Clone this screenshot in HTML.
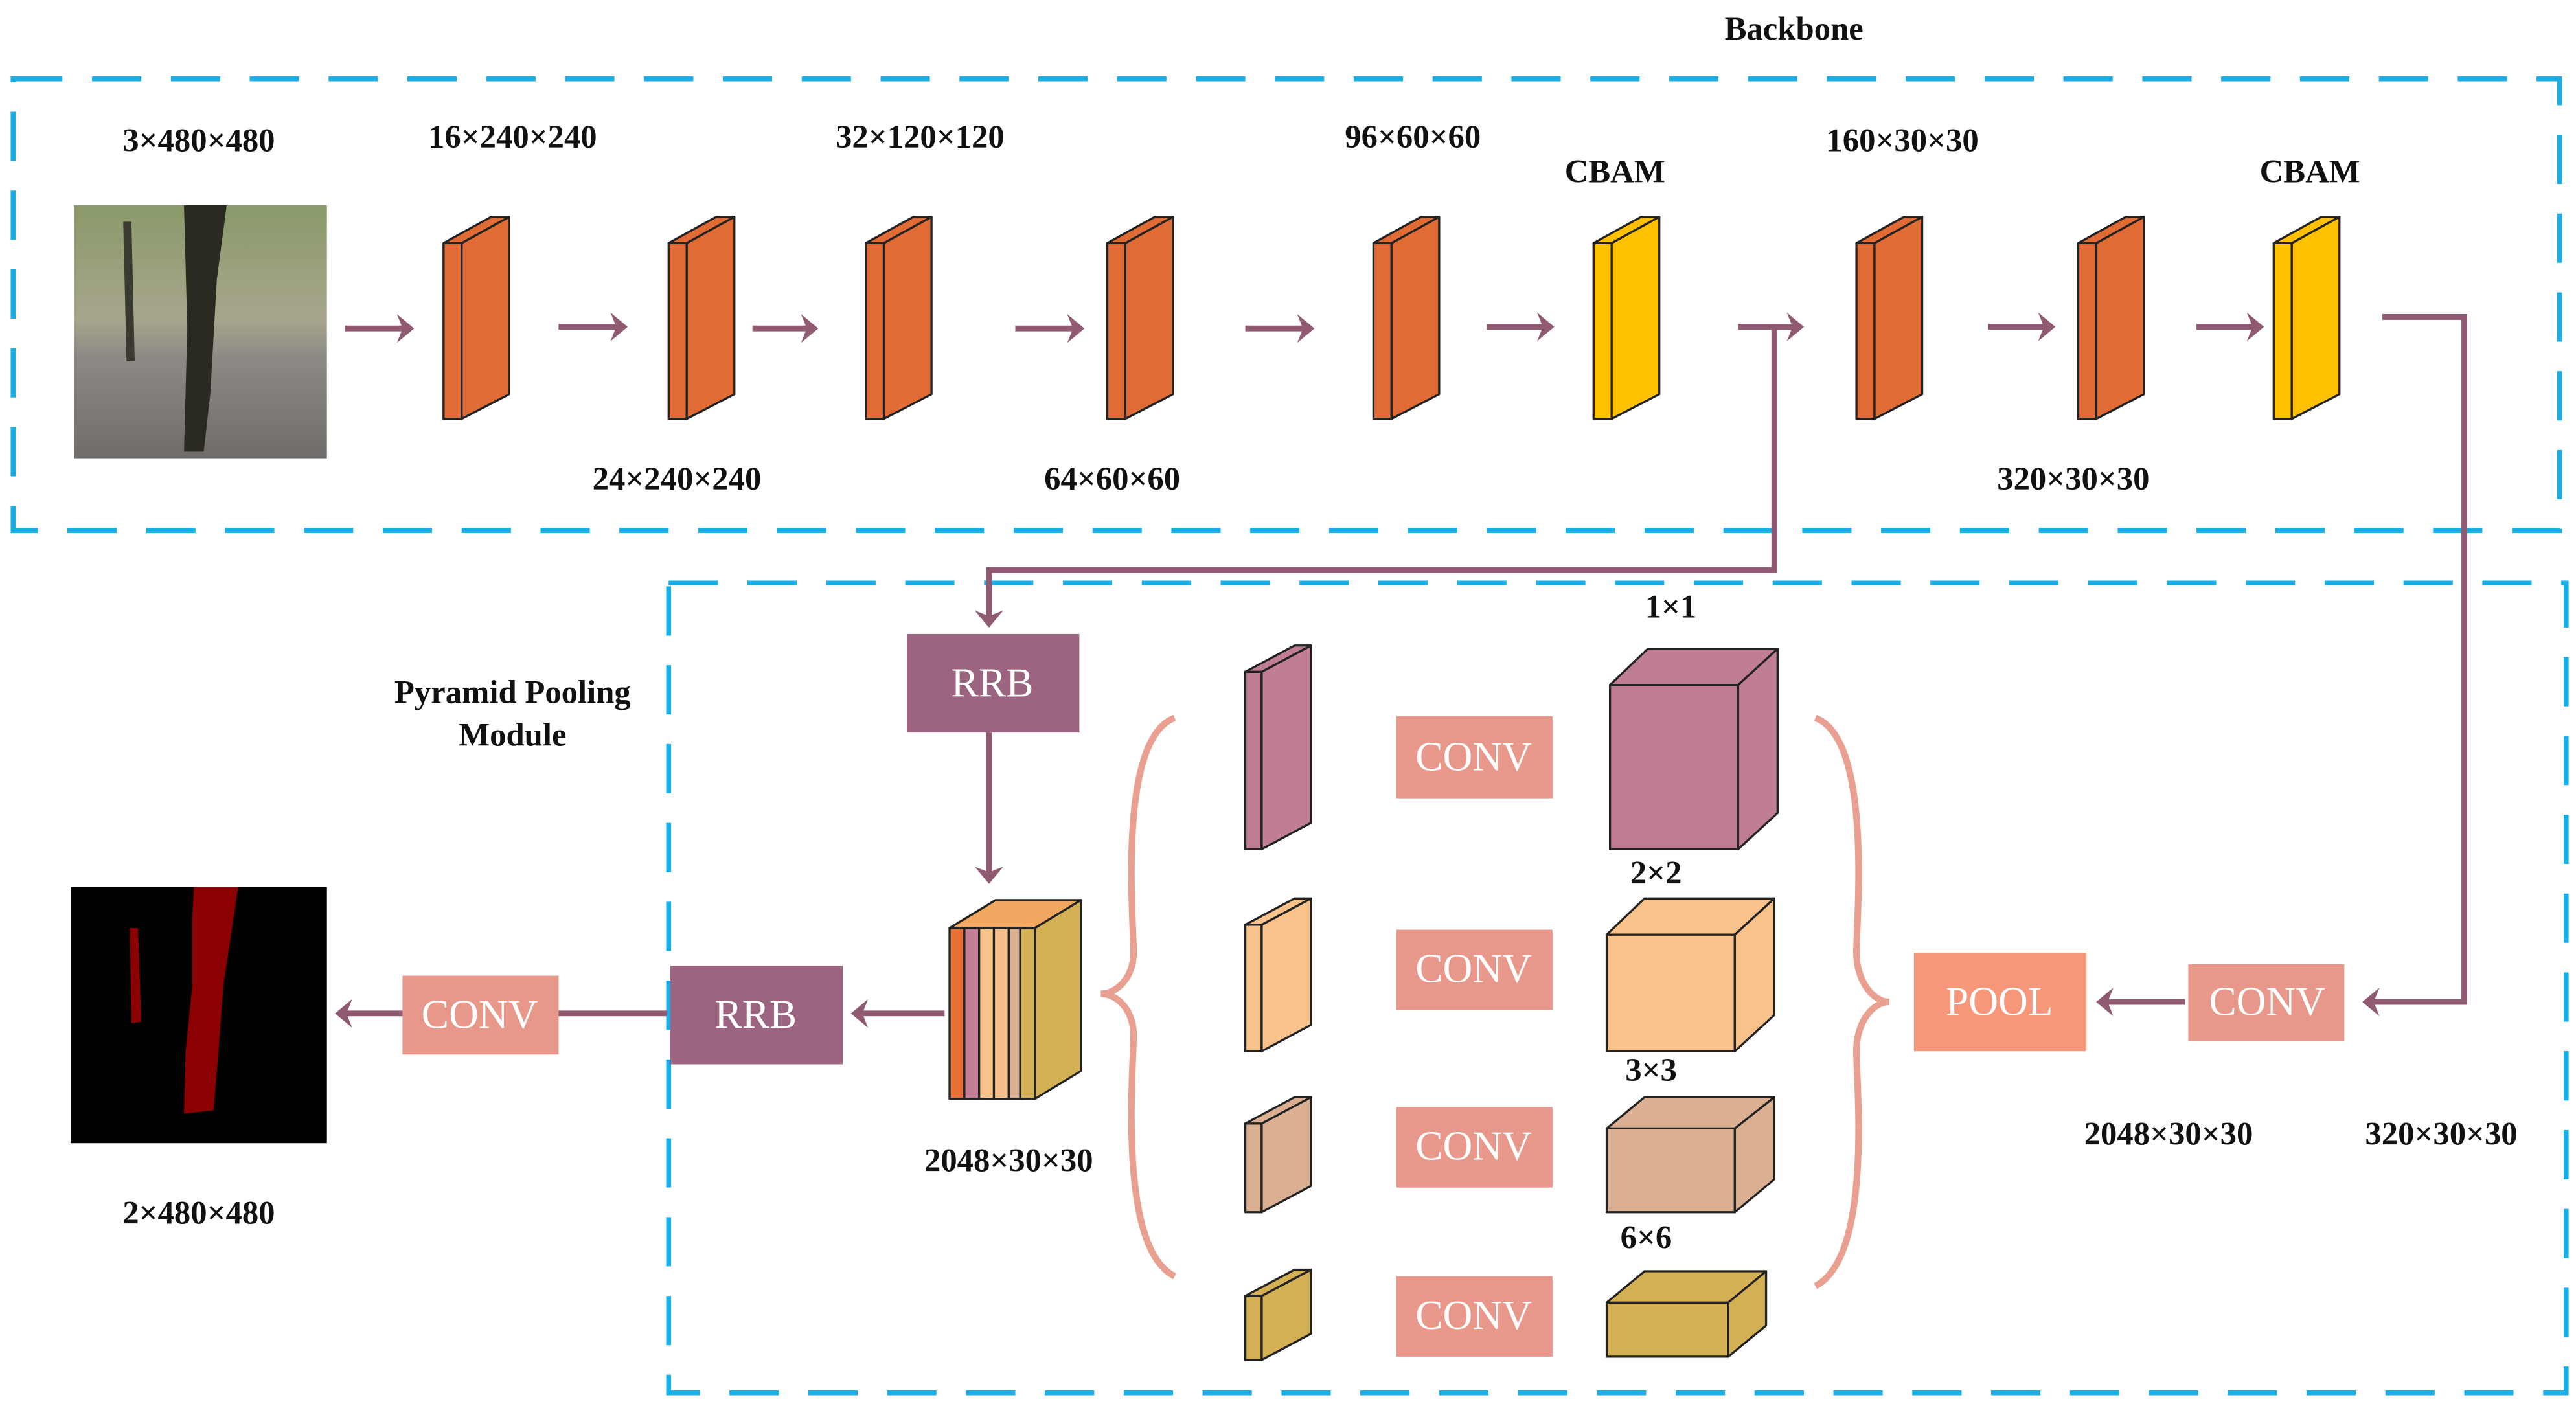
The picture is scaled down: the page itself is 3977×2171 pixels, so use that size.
<!DOCTYPE html>
<html><head><meta charset="utf-8"><style>html,body{margin:0;padding:0;background:#fff}svg{display:block}</style></head>
<body>
<svg width="3977" height="2171" viewBox="0 0 1568 856" preserveAspectRatio="none" xmlns="http://www.w3.org/2000/svg" font-family="'Liberation Serif', 'DejaVu Serif', serif">
<defs>
<marker id="ah" markerWidth="5" markerHeight="5" refX="2.4" refY="2.5" orient="auto" markerUnits="strokeWidth"><path d="M0,0 L3,2.5 L0,5 L1,2.5 Z" fill="#8f5a72"/></marker>
<linearGradient id="photo" x1="0" y1="0" x2="0" y2="1"><stop offset="0" stop-color="#8a9a6a"/><stop offset="0.45" stop-color="#a7a58c"/><stop offset="0.6" stop-color="#8d8a85"/><stop offset="1" stop-color="#6f6c6a"/></linearGradient>
<g id="sl">
<polygon points="0,16 11,16 11,123 0,123" fill="#e06b35"/>
<polygon points="11,16 40,0 40,108 11,123" fill="#e06b35"/>
<polygon points="0,16 29,0 40,0 11,16" fill="#e06b35"/>
</g>
</defs>
<style>
text{font-family:"Liberation Serif","DejaVu Serif",serif;font-weight:bold;font-size:20px;fill:#111;text-anchor:middle}
.w{fill:#fff;font-weight:normal;font-size:25px}
.d{fill:none;stroke:#19aee6;stroke-width:3;stroke-dasharray:30 18}
.a{fill:none;stroke:#8f5a72;stroke-width:3.5}
.s{stroke:#222;stroke-width:1.3;stroke-linejoin:round}
</style>
<rect class="d" x="8" y="48" width="1550" height="275"/>
<rect class="d" x="407" y="355" width="1155" height="493"/>
<text x="1092" y="24">Backbone</text>
<rect x="45" y="125" width="154" height="154" fill="url(#photo)"/>
<path d="M112,125 L138,125 L132,170 L128,240 L124,275 L112,275 L114,200 Z" fill="#2a2a22"/>
<path d="M75,135 L80,135 L82,220 L77,220 Z" fill="#3a3a30"/>
<text x="121" y="92">3×480×480</text>
<text x="312" y="90">16×240×240</text>
<text x="560" y="90">32×120×120</text>
<text x="860" y="90">96×60×60</text>
<text x="983" y="111">CBAM</text>
<text x="1158" y="92">160×30×30</text>
<text x="1406" y="111">CBAM</text>
<text x="412" y="298">24×240×240</text>
<text x="677" y="298">64×60×60</text>
<text x="1262" y="298">320×30×30</text>
<g class="s">
<use href="#sl" x="270" y="132"/>
<use href="#sl" x="407" y="132"/>
<use href="#sl" x="527" y="132"/>
<use href="#sl" x="674" y="132"/>
<use href="#sl" x="836" y="132"/>
<use href="#sl" x="1130" y="132"/>
<use href="#sl" x="1265" y="132"/>
<g transform="translate(970,132)"><polygon points="0,16 11,16 11,123 0,123" fill="#ffc000"/><polygon points="11,16 40,0 40,108 11,123" fill="#ffc000"/><polygon points="0,16 29,0 40,0 11,16" fill="#ffc000"/></g>
<g transform="translate(1384,132)"><polygon points="0,16 11,16 11,123 0,123" fill="#ffc000"/><polygon points="11,16 40,0 40,108 11,123" fill="#ffc000"/><polygon points="0,16 29,0 40,0 11,16" fill="#ffc000"/></g>
</g>
<g class="a" marker-end="url(#ah)">
<line x1="210" y1="200" x2="250" y2="200"/>
<line x1="340" y1="199" x2="380" y2="199"/>
<line x1="458" y1="200" x2="496" y2="200"/>
<line x1="618" y1="200" x2="658" y2="200"/>
<line x1="758" y1="200" x2="798" y2="200"/>
<line x1="905" y1="199" x2="944" y2="199"/>
<line x1="1058" y1="199" x2="1096" y2="199"/>
<line x1="1210" y1="199" x2="1249" y2="199"/>
<line x1="1337" y1="199" x2="1376" y2="199"/>
<polyline points="1080,199 1080,347 602,347 602,380"/>
<polyline points="1450,193 1500,193 1500,610 1440,610"/>
<line x1="602" y1="446" x2="602" y2="536"/>
<line x1="575" y1="617" x2="520" y2="617"/>
<line x1="406" y1="617" x2="206" y2="617"/>
<line x1="1330" y1="610" x2="1278" y2="610"/>
</g>
<rect x="552" y="386" width="105" height="60" fill="#9b6481"/>
<text class="w" x="604" y="424">RRB</text>
<rect x="408" y="588" width="105" height="60" fill="#9b6481"/>
<text class="w" x="460" y="626">RRB</text>
<rect x="245" y="594" width="95" height="48" fill="#e8988a"/>
<text class="w" x="292" y="626">CONV</text>
<rect x="43" y="540" width="156" height="156" fill="#000"/>
<path d="M118,540 L145,540 L142,560 L136,600 L133,640 L130,676 L112,678 L113,640 L117,600 L117,560 Z" fill="#8b0000"/>
<path d="M79,565 L84,565 L86,622 L80,623 Z" fill="#8b0000"/>
<text x="121" y="745">2×480×480</text>
<text x="312" y="428">Pyramid Pooling</text>
<text x="312" y="454">Module</text>
<g class="s">
<polygon points="578,565 606,548 658,548 630,565" fill="#f0a860"/>
<polygon points="630,565 658,548 658,652 630,669" fill="#d4b054"/>
<rect x="578" y="565" width="9" height="104" fill="#e86f35"/>
<rect x="587" y="565" width="9" height="104" fill="#c47e98"/>
<rect x="596" y="565" width="9" height="104" fill="#f8c48a"/>
<rect x="605" y="565" width="9" height="104" fill="#f5bf8c"/>
<rect x="614" y="565" width="9" height="104" fill="#dbb092"/>
<rect x="621" y="565" width="9" height="104" fill="#d4b054"/>
</g>
<text x="614" y="713">2048×30×30</text>
<path d="M715,437 C680,450 690,560 690,580 C690,595 680,605 670,605 C680,605 690,615 690,630 C690,650 680,760 715,777" fill="none" stroke="#e9a090" stroke-width="4"/>
<path d="M1105,437 C1140,450 1130,560 1130,580 C1130,597 1140,610 1150,610 C1140,610 1130,622 1130,640 C1130,660 1140,765 1105,783" fill="none" stroke="#e9a090" stroke-width="4"/>
<g class="s">
<polygon points="758,409 768,409 768,517 758,517" fill="#c07e96"/><polygon points="768,409 798,393 798,501 768,517" fill="#c07e96"/><polygon points="758,409 788,393 798,393 768,409" fill="#c07e96"/>
<polygon points="758,563 768,563 768,640 758,640" fill="#f8c28a"/><polygon points="768,563 798,547 798,624 768,640" fill="#f8c28a"/><polygon points="758,563 788,547 798,547 768,563" fill="#f8c28a"/>
<polygon points="758,684 768,684 768,738 758,738" fill="#dbb092"/><polygon points="768,684 798,668 798,722 768,738" fill="#dbb092"/><polygon points="758,684 788,668 798,668 768,684" fill="#dbb092"/>
<polygon points="758,789 768,789 768,828 758,828" fill="#d4b054"/><polygon points="768,789 798,773 798,812 768,828" fill="#d4b054"/><polygon points="758,789 788,773 798,773 768,789" fill="#d4b054"/>
</g>
<g fill="#e8988a">
<rect x="850" y="436" width="95" height="50"/><rect x="850" y="566" width="95" height="49"/><rect x="850" y="674" width="95" height="49"/><rect x="850" y="777" width="95" height="49"/>
</g>
<text class="w" x="897" y="469">CONV</text>
<text class="w" x="897" y="598">CONV</text>
<text class="w" x="897" y="706">CONV</text>
<text class="w" x="897" y="809">CONV</text>
<g class="s">
<polygon points="980,417 1058,417 1058,517 980,517" fill="#c07e96"/><polygon points="980,417 1003,395 1082,395 1058,417" fill="#c07e96"/><polygon points="1058,417 1082,395 1082,495 1058,517" fill="#c07e96"/>
<polygon points="978,569 1056,569 1056,640 978,640" fill="#f8c28a"/><polygon points="978,569 1001,547 1080,547 1056,569" fill="#f8c28a"/><polygon points="1056,569 1080,547 1080,618 1056,640" fill="#f8c28a"/>
<polygon points="978,687 1056,687 1056,738 978,738" fill="#dbb092"/><polygon points="978,687 1001,668 1080,668 1056,687" fill="#dbb092"/><polygon points="1056,687 1080,668 1080,718 1056,738" fill="#dbb092"/>
<polygon points="978,793 1052,793 1052,826 978,826" fill="#d4b054"/><polygon points="978,793 1001,774 1075,774 1052,793" fill="#d4b054"/><polygon points="1052,793 1075,774 1075,807 1052,826" fill="#d4b054"/>
</g>
<text x="1017" y="376">1×1</text>
<text x="1008" y="538">2×2</text>
<text x="1005" y="658">3×3</text>
<text x="1002" y="760">6×6</text>
<rect x="1165" y="580" width="105" height="60" fill="#f7977a"/>
<text class="w" x="1217" y="618">POOL</text>
<rect x="1332" y="587" width="95" height="47" fill="#e8988a"/>
<text class="w" x="1380" y="618">CONV</text>
<text x="1320" y="697">2048×30×30</text>
<text x="1486" y="697">320×30×30</text>
</svg>
</body></html>
